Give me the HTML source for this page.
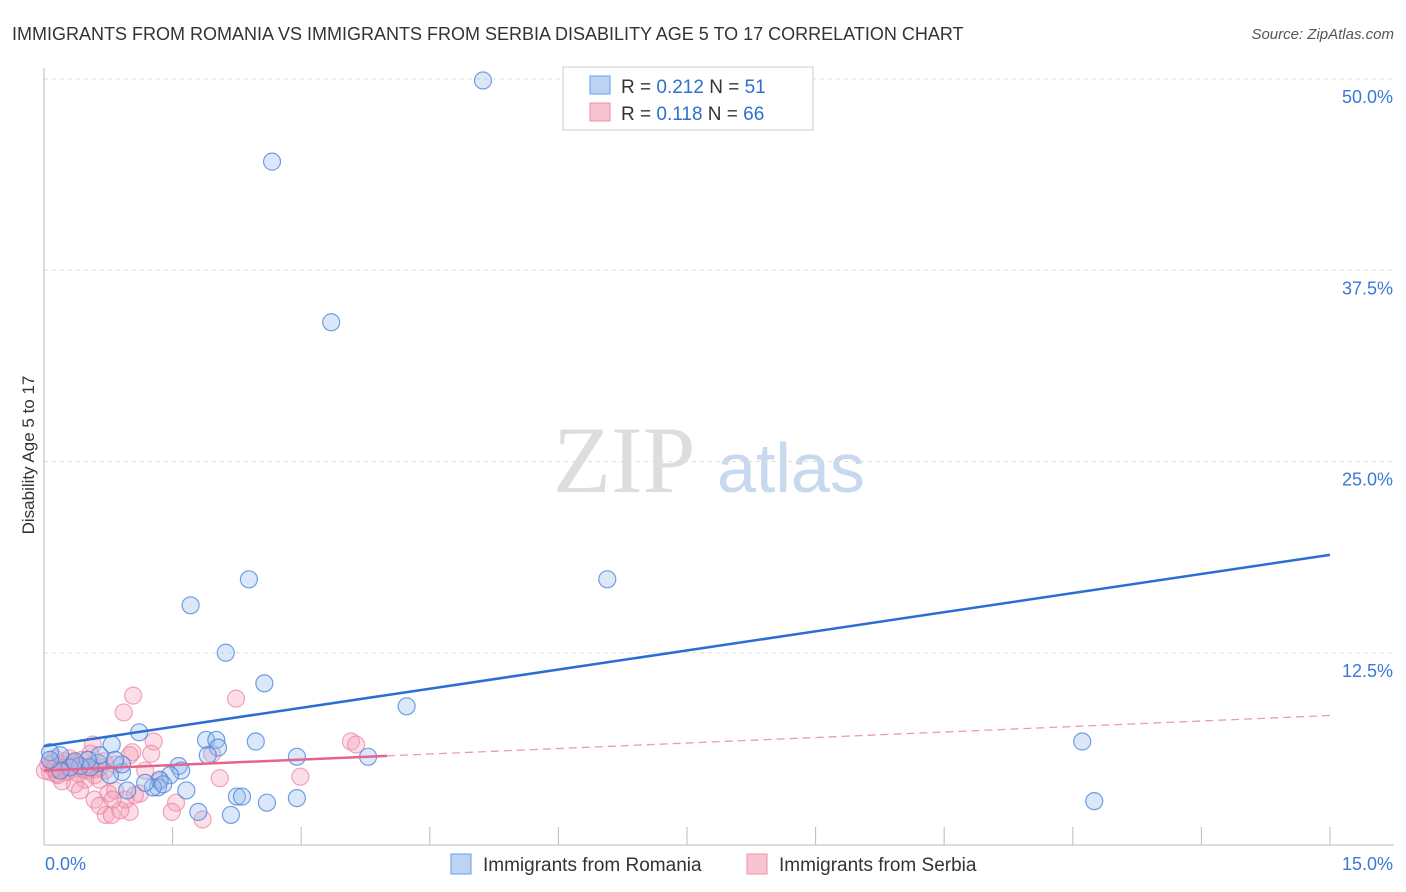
<!DOCTYPE html>
<html><head><meta charset="utf-8"><style>
body{margin:0;background:#fff;font-family:"Liberation Sans",sans-serif;}
svg{display:block}
</style></head><body>
<svg width="1406" height="892">
<text x="12" y="40" font-size="18" fill="#333">IMMIGRANTS FROM ROMANIA VS IMMIGRANTS FROM SERBIA DISABILITY AGE 5 TO 17 CORRELATION CHART</text>
<text x="1394" y="39" font-size="15" fill="#555" font-style="italic" text-anchor="end">Source: ZipAtlas.com</text>
<text x="0" y="0" transform="translate(34,455) rotate(-90)" font-size="17" fill="#333" text-anchor="middle">Disability Age 5 to 17</text>
<text x="553" y="492" font-size="95" fill="#ddd" font-family="Liberation Serif,serif">ZIP</text>
<text x="717" y="492" font-size="70" fill="#c8d8ef">atlas</text>
<g id="grid"></g><g id="axes"></g><g id="pts"></g><g id="lines"></g>
<g>
<rect x="563" y="67" width="250" height="63" fill="#fff" stroke="#ccc"/>
<rect x="590" y="76" width="20" height="18" fill="#bcd4f3" stroke="#6a9be0"/>
<rect x="590" y="103" width="20" height="18" fill="#f9c4d2" stroke="#ee8fab"/>
<text x="621" y="93" font-size="19" fill="#333">R = <tspan fill="#2f6fd0">0.212</tspan>   N = <tspan fill="#2f6fd0">51</tspan></text>
<text x="621" y="120" font-size="19" fill="#333">R = <tspan fill="#2f6fd0"> 0.118</tspan>   N = <tspan fill="#2f6fd0">66</tspan></text>
</g>
<g>
<rect x="451" y="854" width="20" height="20" fill="#bcd4f3" stroke="#6a9be0"/>
<text x="483" y="871" font-size="19" fill="#333">Immigrants from Romania</text>
<rect x="747" y="854" width="20" height="20" fill="#f9c4d2" stroke="#ee8fab"/>
<text x="779" y="871" font-size="19" fill="#333">Immigrants from Serbia</text>
</g>
</svg>
<script>
const yTicks=[12.5,25,37.5,50];
const yTickLabels=["12.5%","25.0%","37.5%","50.0%"];
const xTickLabels=["0.0%","15.0%"];
const romaniaX=[5.12,2.66,3.35,2.39,6.57,1.71,2.12,2.57,4.23,1.11,0.79,12.11,12.25,1.89,2.01,2.03,1.91,2.47,2.95,3.78,1.57,1.60,1.47,1.35,1.33,1.27,1.39,1.66,0.91,0.91,0.97,0.19,0.07,0.63,0.54,0.42,0.30,0.65,2.25,2.31,2.60,2.95,1.80,2.18,0.77,1.18,0.51,0.36,0.19,0.83,0.07];
const romaniaY=[49.9,44.6,34.1,17.3,17.3,15.6,12.5,10.5,9.0,7.3,6.5,6.7,2.8,6.8,6.8,6.3,5.8,6.7,5.7,5.7,5.1,4.8,4.5,4.2,3.7,3.7,3.9,3.5,4.7,5.2,3.5,5.8,6.0,5.3,5.0,5.1,5.0,5.8,3.1,3.1,2.7,3.0,2.1,1.9,4.5,4.0,5.5,5.4,4.8,5.5,5.5];
const serbiaX=[1.04,2.24,0.93,1.28,0.57,3.58,3.64,1.03,1.25,1.96,2.99,2.05,1.00,0.83,0.71,0.59,0.48,0.36,0.21,0.13,0.07,0.24,0.30,0.44,0.65,0.75,0.83,0.42,0.59,0.65,0.72,0.79,1.00,0.89,1.54,1.49,1.85,0.95,1.12,1.18,1.35,0.13,0.05,0.16,0.54,0.65,0.28,0.80,1.06,0.40,0.01,0.51,0.70,0.21,0.10,0.33,0.46,0.25,0.15,0.38,0.55,0.60,0.12,0.34,0.27,0.48];
const serbiaY=[9.7,9.5,8.6,6.7,6.5,6.7,6.5,6.0,5.9,5.9,4.4,4.3,5.8,5.2,4.8,4.5,4.2,3.9,4.1,5.0,4.7,5.4,5.6,5.5,4.2,3.3,3.5,3.5,2.9,2.5,1.9,1.9,2.1,2.2,2.7,2.1,1.6,2.9,3.3,4.8,4.1,5.6,5.2,4.5,5.9,5.0,4.8,2.9,3.2,4.6,4.8,4.8,5.4,5.2,5.3,5.1,4.9,5.0,4.6,5.2,5.1,4.9,4.9,5.3,4.7,5.0];
const romaniaTrend=[6.4,18.9];
const serbiaTrend=[4.8,8.4];
const serbiaSolidEnd=4.0;
const NS="http://www.w3.org/2000/svg";
const X0=44,X1=1330,Y0=844;
const xs=v=>X0+v/15*(X1-X0);
const ys=v=>Y0-v*15.3;
function mk(tag,attrs,parent){const e=document.createElementNS(NS,tag);for(const k in attrs)e.setAttribute(k,attrs[k]);document.getElementById(parent).appendChild(e);return e;}
yTicks.forEach((t,i)=>{
 const g=mk('line',{x1:X0,x2:1394,y1:ys(t),y2:ys(t),stroke:'#ddd','stroke-dasharray':'4,4'},'grid');
 
 
 const l=mk('text',{x:1393,y:ys(t)+24,'font-size':18,fill:'#3b78d6','text-anchor':'end'},'grid');
 l.textContent=yTickLabels[i];
 
 
});
const ax=mk('line',{x1:X0,x2:X0,y1:68,y2:845,stroke:'#bbb'},'axes');


const bx=mk('line',{x1:X0,x2:1394,y1:845,y2:845,stroke:'#bbb'},'axes');


for(let i=1;i<=10;i++){const t=mk('line',{x1:xs(i*1.5),x2:xs(i*1.5),y1:827,y2:845,stroke:'#bbb'},'axes');
 
 }
[[X0+1,'start'],[1393,'end']].forEach((p,i)=>{const t=mk('text',{x:p[0],y:870,'font-size':18,fill:'#3b78d6','text-anchor':p[1]},'axes');t.textContent=xTickLabels[i];
 
 });
serbiaX.forEach((v,i)=>{const c=mk('circle',{cx:xs(v),cy:ys(serbiaY[i]),r:8.5,fill:'rgba(244,160,185,0.35)',stroke:'rgba(236,130,160,0.7)','stroke-width':1.2},'pts');
 
 });
romaniaX.forEach((v,i)=>{const c=mk('circle',{cx:xs(v),cy:ys(romaniaY[i]),r:8.5,fill:'rgba(150,190,240,0.35)',stroke:'rgba(70,130,215,0.75)','stroke-width':1.2},'pts');
 
 });
const rl=mk('line',{x1:xs(0),y1:ys(romaniaTrend[0]),x2:xs(15),y2:ys(romaniaTrend[1]),stroke:'#2a6dd4','stroke-width':2.5},'lines');


const sm=serbiaTrend[0]+(serbiaTrend[1]-serbiaTrend[0])*serbiaSolidEnd/15;
const sl=mk('line',{x1:xs(0),y1:ys(serbiaTrend[0]),x2:xs(serbiaSolidEnd),y2:ys(sm),stroke:'#e8638c','stroke-width':2.5},'lines');


const sd=mk('line',{x1:xs(serbiaSolidEnd),y1:ys(sm),x2:xs(15),y2:ys(serbiaTrend[1]),stroke:'#ee9ab4','stroke-width':1.3,'stroke-dasharray':'8,5'},'lines');


</script>
</body></html>
